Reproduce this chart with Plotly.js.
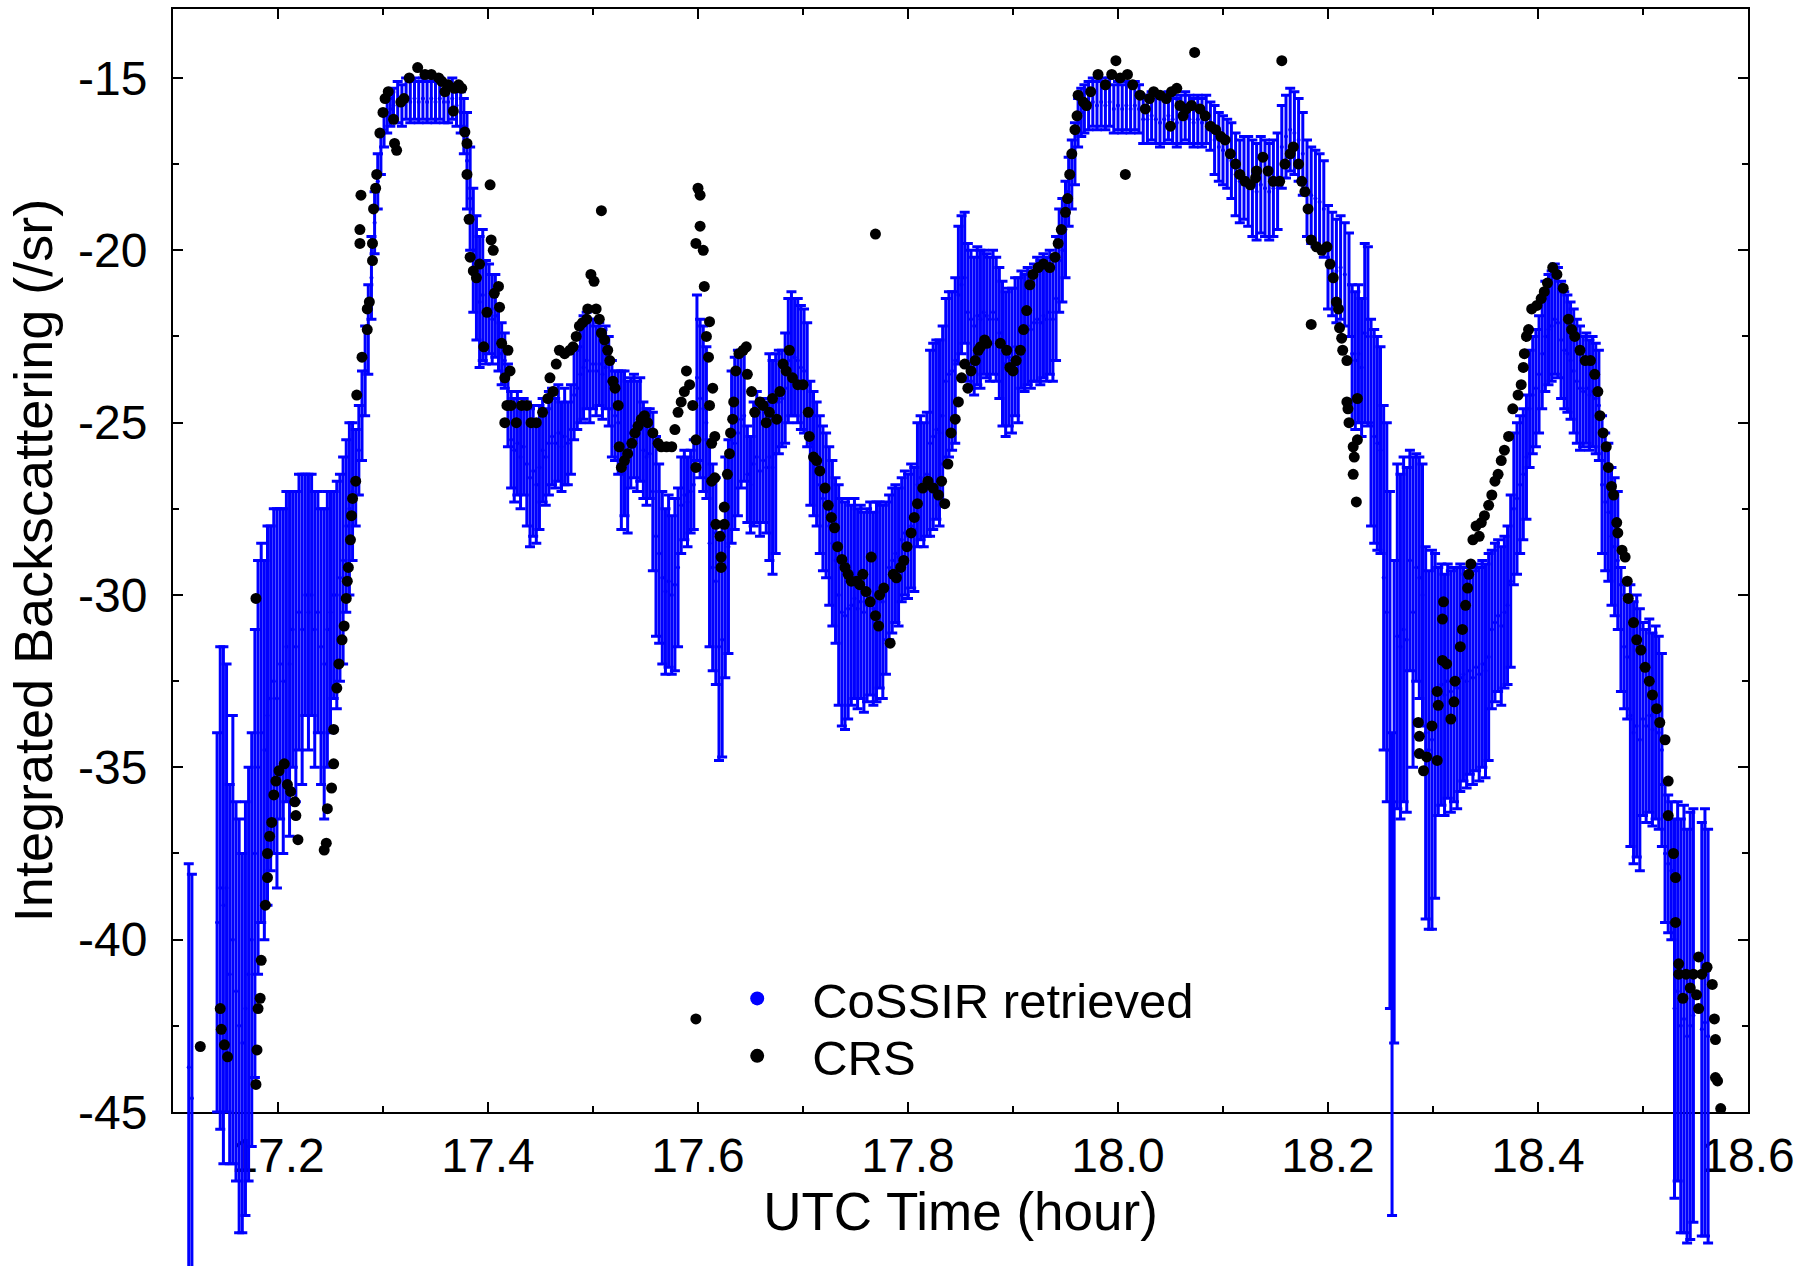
<!DOCTYPE html>
<html>
<head>
<meta charset="utf-8">
<script src="https://cdn.plot.ly/plotly-3.0.1.min.js"></script>
<style>html,body{margin:0;padding:0;background:#fff}#chart{width:1812px;height:1266px}</style>
</head>
<body>
<div id="chart"></div>
<script>
// CoSSIR retrieved: time (UTC hour), integrated backscattering (/sr), error
const cossirTime = [
17.115,17.118,17.142,17.145,17.148,17.151,17.154,17.157,17.160,17.163,
17.166,17.169,17.172,17.175,17.178,17.181,17.184,
17.187,17.190,17.193,17.196,17.199,17.202,17.205,17.208,17.211,17.214,
17.217,17.220,17.223,17.226,17.229,17.232,17.235,17.238,17.241,17.244,
17.247,17.250,17.253,17.256,17.259,17.262,17.265,17.268,17.271,
17.274,17.277,17.280,17.283,17.286,17.289,17.292,17.295,17.298,17.301,
17.304,17.307,17.310,
17.314,17.318,17.322,17.326,17.330,17.334,17.338,17.342,17.346,17.350,
17.354,17.358,17.362,17.366,17.370,17.374,
17.377,17.380,17.383,17.386,17.389,17.392,17.395,17.398,17.401,17.404,
17.407,17.410,17.413,17.416,17.419,17.422,17.425,17.428,17.431,17.434,
17.437,17.440,17.443,17.446,17.449,17.452,17.455,17.458,17.461,17.464,
17.467,17.470,17.473,17.476,17.479,17.482,17.485,17.488,17.491,17.494,
17.497,17.500,17.503,17.506,17.509,17.512,17.515,17.518,17.521,17.524,
17.527,17.530,17.533,17.536,17.539,17.542,17.545,17.548,17.551,17.554,
17.557,17.560,17.563,17.566,17.569,17.572,17.575,17.578,17.581,17.584,
17.587,17.590,17.593,17.596,17.599,17.602,17.605,17.608,
17.611,17.614,17.617,17.620,17.623,17.626,17.629,17.632,17.635,17.638,
17.641,17.644,17.647,17.650,17.653,17.656,17.659,17.662,17.665,17.668,
17.671,17.674,17.677,17.680,17.683,17.686,17.689,17.692,17.695,17.698,
17.701,17.704,17.707,17.710,17.713,17.716,17.719,17.722,17.725,17.728,
17.731,17.734,17.737,17.740,17.743,17.746,17.749,17.752,17.755,17.758,
17.761,17.764,17.767,17.770,17.773,17.776,17.779,17.782,17.785,17.788,
17.791,17.794,17.797,17.800,17.803,17.806,17.809,17.812,17.815,17.818,
17.821,17.824,17.827,17.830,17.833,17.836,17.839,17.842,17.845,17.848,
17.851,17.854,17.857,17.860,17.863,17.866,17.869,17.872,17.875,17.878,
17.881,17.884,17.887,17.890,17.893,17.896,17.899,17.902,17.905,17.908,
17.911,17.914,17.917,17.920,17.923,17.926,17.929,17.932,17.935,17.938,
17.941,17.944,17.947,17.950,17.953,17.956,17.959,17.962,17.965,
17.968,17.972,17.976,17.980,17.984,17.988,17.992,17.996,18.000,18.004,
18.008,18.012,18.016,18.020,18.024,18.028,18.032,18.036,18.040,18.044,
18.048,18.052,18.056,18.060,18.064,18.068,18.072,18.076,18.080,18.084,
18.088,
18.092,18.096,18.100,18.104,18.108,18.112,18.116,18.120,18.124,18.128,
18.132,18.136,18.140,18.144,18.148,18.152,18.156,18.160,18.164,18.168,
18.172,18.176,18.180,18.184,18.188,18.192,18.196,18.200,18.204,18.208,
18.212,18.216,18.220,
18.223,18.226,18.229,18.232,18.235,18.238,18.241,18.244,18.247,18.250,
18.253,18.256,18.259,18.261,18.263,18.266,18.269,18.272,18.275,18.278,
18.281,18.284,18.287,18.290,18.293,18.296,18.299,18.302,18.305,18.308,
18.311,18.314,18.317,18.320,18.323,18.326,18.329,18.332,18.335,18.338,
18.341,18.344,18.347,18.350,18.353,18.356,18.359,18.362,18.365,18.368,
18.371,18.374,18.377,18.380,18.383,18.386,18.389,18.392,18.395,18.398,
18.401,18.404,18.407,18.410,18.413,18.416,18.419,18.422,18.425,18.428,
18.431,18.434,18.437,18.440,18.443,18.446,18.449,18.452,18.455,18.458,
18.461,18.464,18.467,18.470,18.473,18.476,18.479,18.482,18.485,18.488,
18.491,18.494,18.497,18.500,18.503,18.506,18.509,18.512,18.515,18.518,
18.521,18.524,18.527,18.530,18.533,18.536,18.539,18.542,18.545,18.548,
18.556,18.559,18.562
];
const cossirValue = [
-43.7,-44.6,-39.5,-38.5,-39.0,-38.5,-41.0,-40.0,-41.5,-42.5,
-43.0,-42.0,-41.0,-40.0,-37.5,-35.0,-34.0,
-34.5,-33.5,-33.0,-32.5,-33.0,-32.0,-32.5,-31.5,-32.0,-31.0,
-31.5,-30.5,-31.0,-30.0,-30.5,-30.0,-31.0,-30.5,-31.5,-32.0,
-31.0,-30.5,-30.0,-30.0,-29.5,-29.0,-28.0,-27.5,-27.0,
-26.6,-25.8,-24.8,-23.5,-22.3,-20.8,-19.2,-18.0,-17.2,-16.5,
-16.1,-15.9,-15.8,
-15.7,-15.8,-15.6,-15.7,-15.6,-15.7,-15.6,-15.7,-15.6,-15.7,
-15.6,-15.7,-15.7,-15.6,-15.8,-16.0,
-16.4,-17.4,-18.5,-20.0,-20.8,-21.5,-21.3,-21.8,-21.7,-22.0,
-21.9,-22.6,-23.0,-23.2,-24.5,-25.5,-25.8,-25.6,-26.0,-25.7,
-26.2,-26.6,-26.4,-26.8,-26.3,-25.8,-26.0,-25.6,-25.4,-25.6,
-25.3,-25.7,-25.4,-25.6,-25.2,-24.2,-24.0,-23.6,-23.4,-23.2,
-23.5,-23.3,-23.5,-23.3,-23.6,-23.4,-23.8,-24.6,-24.8,-25.0,
-25.8,-25.6,-26.0,-25.3,-25.1,-25.4,-25.2,-25.8,-26.0,-25.9,
-27.0,-28.3,-28.8,-29.5,-29.9,-29.6,-30.0,-29.7,-29.2,-27.4,
-27.1,-27.3,-27.0,-26.8,-23.7,-24.3,-24.6,-25.0,
-28.5,-29.2,-29.6,-31.5,-31.3,-29.2,-28.6,-26.0,-25.6,-25.3,
-24.9,-24.8,-26.5,-26.8,-26.2,-26.0,-26.4,-26.1,-26.3,-26.0,
-26.3,-25.9,-24.4,-24.3,-24.0,-23.2,-23.0,-23.1,-23.2,-23.4,
-23.5,-23.9,-25.6,-25.9,-26.2,-26.8,-27.2,-27.4,-28.0,-28.5,
-29.0,-30.0,-30.5,-30.6,-30.4,-30.3,-30.1,-30.4,-30.2,-30.5,
-30.3,-30.1,-30.4,-30.2,-30.0,-30.2,-29.8,-29.2,-29.0,-28.8,
-28.9,-28.4,-28.2,-28.3,-28.0,-28.1,-26.8,-26.6,-26.8,-26.5,
-25.6,-25.4,-25.2,-25.3,-24.8,-23.8,-23.6,-23.5,-23.2,-21.3,
-21.0,-20.8,-21.8,-22.0,-22.2,-21.9,-22.0,-21.8,-21.9,-22.0,
-21.8,-22.0,-22.4,-23.0,-23.3,-23.1,-23.2,-22.8,-22.9,-22.3,
-22.4,-22.2,-22.3,-22.1,-22.0,-22.1,-21.9,-22.0,-21.8,-22.0,
-21.4,-20.3,-20.0,-19.4,-18.3,-17.8,-17.2,-16.3,-16.0,
-15.9,-15.8,-15.7,-15.8,-15.7,-15.8,-15.7,-15.9,-15.8,-15.9,
-15.8,-15.9,-15.8,-15.9,-16.2,-16.2,-16.1,-16.2,-16.3,-16.2,
-16.1,-16.2,-16.3,-16.2,-16.1,-16.2,-16.3,-16.2,-16.3,-16.2,
-16.4,
-16.8,-17.0,-17.1,-17.2,-17.4,-17.8,-18.0,-17.9,-18.0,-18.2,
-18.3,-18.1,-18.2,-18.3,-18.2,-18.0,-17.0,-16.7,-16.5,-16.6,
-16.8,-17.2,-18.2,-18.4,-18.5,-18.6,-18.8,-20.2,-20.4,-20.6,
-20.5,-20.7,-21.0,
-23.0,-23.2,-23.0,-23.4,-22.4,-22.5,-25.0,-25.4,-25.6,-25.8,
-29.5,-30.5,-34.5,-41.0,-36.0,-31.2,-31.5,-31.0,-31.3,-29.0,
-30.5,-29.2,-29.5,-30.0,-34.0,-34.5,-34.2,-33.8,-32.8,-32.6,
-32.9,-32.5,-32.8,-32.6,-32.7,-32.4,-32.3,-32.5,-32.2,-32.4,
-32.1,-32.3,-32.0,-32.2,-31.8,-31.0,-30.8,-30.6,-30.9,-30.5,
-30.3,-29.6,-27.5,-27.2,-26.8,-26.5,-26.0,-24.6,-24.2,-24.0,
-23.6,-23.0,-22.5,-22.3,-22.2,-22.0,-22.1,-22.6,-22.9,-23.0,
-23.2,-23.5,-23.8,-24.0,-24.1,-24.0,-24.2,-24.1,-24.3,-24.5,
-26.8,-27.3,-27.6,-28.3,-28.6,-29.0,-31.0,-31.5,-31.8,-33.5,
-34.0,-33.8,-34.2,-33.6,-33.8,-33.5,-33.9,-33.7,-34.0,-34.5,
-37.5,-37.8,-38.0,-42.0,-41.5,-42.5,-42.3,-42.8,-42.5,-42.2,
-42.6,-42.4,-42.8
];
const cossirError = [
5.9,6.5,5.5,7.0,7.5,6.5,5.5,6.5,5.5,6.0,
5.5,6.0,6.0,6.0,6.5,6.0,5.5,
5.5,5.5,5.0,5.0,5.5,4.5,5.0,4.5,5.0,4.0,
4.5,4.0,4.5,3.5,4.0,3.5,4.0,3.5,4.0,4.5,
4.0,3.5,3.0,3.3,3.0,3.0,2.5,2.5,2.0,
1.4,1.3,1.3,1.3,1.3,1.2,0.9,0.8,0.6,0.5,
0.5,0.5,0.5,
0.6,0.6,0.6,0.6,0.6,0.6,0.6,0.6,0.6,0.6,
0.6,0.6,0.6,0.6,0.6,0.6,
0.8,1.4,1.5,1.8,1.8,1.9,1.9,1.5,1.3,1.3,
1.2,0.9,0.9,0.8,1.2,1.4,1.5,1.5,1.5,1.4,
1.8,2.0,1.9,1.7,1.8,1.5,1.4,1.5,1.4,1.3,
1.4,1.3,1.4,1.2,1.3,1.3,1.2,1.4,1.5,1.4,
1.5,1.3,1.3,1.2,1.3,1.2,1.3,1.4,1.3,1.5,
2.3,2.1,2.2,1.6,1.5,1.6,1.5,1.4,1.4,1.3,
2.3,2.9,2.6,2.5,2.4,2.5,2.3,2.5,2.3,1.4,
1.3,1.3,1.2,1.3,2.4,2.3,2.4,2.2,
3.0,3.0,3.0,3.3,3.4,3.2,3.1,2.5,2.5,2.4,
2.0,1.9,1.4,1.4,1.8,1.9,1.9,1.8,1.9,3.0,
3.1,2.9,1.5,1.4,1.6,1.8,1.8,1.7,1.8,1.8,
1.8,1.8,1.8,1.8,1.8,2.0,2.1,2.1,2.3,2.4,
2.4,3.2,3.3,3.3,3.2,2.9,2.9,2.9,2.8,2.9,
2.8,2.8,2.8,2.9,2.7,2.8,2.5,2.1,2.1,2.0,
2.0,1.8,1.8,1.8,1.8,1.8,1.8,1.8,1.8,1.8,
2.7,2.7,2.6,2.7,2.6,2.4,2.4,2.3,2.4,2.0,
2.0,1.9,2.0,2.0,2.0,2.0,2.0,1.8,1.8,1.8,
1.8,1.8,1.9,2.1,2.1,2.0,2.1,2.0,2.1,1.7,
1.7,1.7,1.7,1.7,1.8,1.8,1.8,1.8,1.8,1.8,
1.8,1.5,1.5,1.4,1.0,1.0,0.9,0.7,0.7,
0.7,0.7,0.7,0.7,0.7,0.7,0.7,0.7,0.7,0.7,
0.7,0.7,0.7,0.7,0.7,0.7,0.7,0.7,0.7,0.7,
0.7,0.7,0.7,0.7,0.7,0.7,0.7,0.7,0.7,0.7,
0.7,
1.0,1.0,1.0,1.0,1.1,1.2,1.2,1.2,1.3,1.4,
1.4,1.4,1.4,1.4,1.4,1.4,1.2,1.2,1.2,1.2,
1.2,1.2,1.4,1.4,1.4,1.4,1.4,1.5,1.5,1.5,
1.5,1.5,1.5,
2.0,2.0,2.0,2.0,2.6,2.6,3.0,3.1,3.1,3.0,
5.0,5.5,7.5,7.0,7.0,5.0,5.0,5.0,5.0,3.2,
4.5,3.3,3.5,3.8,5.4,5.2,5.5,5.0,3.6,3.5,
3.5,3.4,3.5,3.4,3.5,3.3,3.1,3.1,3.0,3.1,
3.0,3.1,3.0,3.1,3.0,2.3,2.3,2.2,2.3,2.2,
2.3,2.5,2.2,2.2,2.0,1.9,1.8,1.7,1.7,1.7,
1.7,1.6,1.6,1.6,1.6,1.6,1.6,1.7,1.7,1.7,
1.7,1.8,1.8,1.8,1.6,1.6,1.6,1.6,1.6,1.6,
2.0,2.0,2.0,2.0,2.0,2.0,1.8,1.8,1.8,3.8,
3.8,3.8,3.8,2.8,2.8,2.8,2.8,2.8,2.8,2.8,
2.0,2.0,2.0,5.5,5.5,6.0,6.2,6.0,6.2,6.0,
6.0,6.2,6.0
];

// CRS: time (UTC hour), integrated backscattering (/sr)
const crsTime = [
17.126,17.145,17.146,17.149,17.152,17.179,17.179,17.180,17.181,17.183,
17.184,17.188,17.190,17.190,17.192,17.194,17.196,17.198,17.201,17.206,
17.209,17.212,17.216,17.217,17.219,17.244,17.246,17.247,17.251,17.253,
17.253,17.256,17.258,17.261,17.263,17.265,17.266,17.267,17.269,17.270,
17.271,17.274,17.275,17.278,17.278,17.279,17.280,17.285,17.285,17.287,
17.290,17.290,17.291,17.293,17.294,17.297,17.300,17.302,17.305,17.310,
17.311,17.313,17.317,17.320,17.325,17.333,17.340,17.346,17.353,17.356,
17.359,17.362,17.367,17.368,17.372,17.375,17.378,17.380,17.380,17.382,
17.383,17.386,17.389,17.392,17.396,17.399,17.402,17.403,17.405,17.406,
17.410,17.411,17.413,17.416,17.416,17.418,17.419,17.421,17.422,17.427,
17.432,17.437,17.441,17.446,17.452,17.457,17.459,17.462,17.465,17.468,
17.473,17.478,17.481,17.484,17.487,17.490,17.494,17.495,17.498,17.501,
17.503,17.506,17.508,17.508,17.511,17.514,17.516,17.519,17.521,17.524,
17.525,17.527,17.530,17.533,17.537,17.540,17.543,17.546,17.549,17.552,
17.557,17.562,17.565,17.570,17.575,17.578,17.581,17.584,17.587,17.589,
17.592,17.595,17.598,17.598,17.598,17.598,17.600,17.602,17.602,17.605,
17.606,17.608,17.610,17.611,17.611,17.613,17.613,17.614,17.616,17.616,
17.617,17.621,17.622,17.622,17.625,17.625,17.628,17.630,17.631,17.633,
17.634,17.636,17.639,17.643,17.646,17.647,17.651,17.654,17.659,17.662,
17.665,17.668,17.671,17.675,17.678,17.681,17.684,17.687,17.690,17.695,
17.700,17.705,17.706,17.710,17.713,17.716,17.721,17.724,17.727,17.730,
17.733,17.737,17.740,17.743,17.746,17.751,17.754,17.757,17.760,17.764,
17.765,17.769,17.769,17.772,17.773,17.777,17.783,17.786,17.789,17.793,
17.796,17.799,17.803,17.806,17.809,17.814,17.819,17.824,17.829,17.832,
17.835,17.838,17.841,17.845,17.848,17.851,17.854,17.857,17.860,17.864,
17.867,17.869,17.873,17.875,17.888,17.894,17.897,17.900,17.903,17.907,
17.910,17.913,17.916,17.919,17.924,17.929,17.935,17.940,17.943,17.946,
17.950,17.952,17.954,17.956,17.959,17.961,17.962,17.967,17.970,17.974,
17.981,17.988,17.994,17.998,18.002,18.007,18.009,18.014,18.021,18.026,
18.030,18.034,18.040,18.046,18.050,18.051,18.056,18.059,18.062,18.065,
18.070,18.073,18.078,18.083,18.088,18.093,18.098,18.102,18.107,18.112,
18.116,18.121,18.126,18.131,18.132,18.138,18.143,18.148,18.154,18.156,
18.159,18.164,18.167,18.172,18.175,18.178,18.181,18.184,18.184,18.189,
18.194,18.199,18.202,18.205,18.208,18.210,18.211,18.213,18.214,18.218,
18.218,18.219,18.220,18.224,18.224,18.225,18.227,18.228,18.228,18.286,
18.287,18.287,18.291,18.294,18.299,18.304,18.304,18.305,18.309,18.309,
18.310,18.313,18.317,18.320,18.321,18.326,18.328,18.331,18.333,18.334,
18.336,18.338,18.341,18.344,18.346,18.349,18.353,18.356,18.359,18.362,
18.365,18.368,18.372,18.376,18.381,18.384,18.386,18.387,18.389,18.391,
18.394,18.399,18.403,18.406,18.409,18.414,18.418,18.424,18.429,18.432,
18.435,18.440,18.445,18.450,18.454,18.457,18.459,18.462,18.465,18.467,
18.470,18.472,18.475,18.476,18.480,18.483,18.485,18.486,18.491,18.494,
18.498,18.502,18.506,18.509,18.513,18.516,18.521,18.524,18.524,18.529,
18.531,18.531,18.534,18.534,18.538,18.541,18.545,18.548,18.551,18.553,
18.553,18.556,18.561,18.566,18.568,18.569,18.569,18.571,18.574
];
const crsValue = [
-43.1,-42.0,-42.6,-43.05,-43.4,-30.1,-44.2,-43.2,-42.0,-41.7,
-40.6,-39.0,-38.2,-37.5,-37.0,-36.6,-35.8,-35.4,-35.1,-34.9,
-35.5,-35.7,-36.0,-36.4,-37.1,-37.4,-37.2,-36.2,-35.6,-34.9,
-33.9,-32.7,-32.0,-31.3,-30.9,-30.1,-29.6,-29.2,-28.4,-27.7,
-27.2,-26.7,-24.2,-19.8,-19.4,-18.4,-23.1,-22.3,-21.7,-21.5,
-20.3,-19.8,-18.8,-18.2,-17.8,-16.6,-16.0,-15.6,-15.4,-16.2,
-16.9,-17.1,-15.7,-15.6,-15.0,-14.7,-14.9,-14.9,-15.0,-15.1,
-15.4,-15.2,-15.96,-15.3,-15.2,-15.3,-16.57,-16.9,-17.8,-19.1,
-20.2,-20.6,-20.8,-20.4,-22.8,-21.8,-18.1,-19.7,-20.0,-21.25,
-21.05,-21.65,-22.7,-23.7,-25.0,-24.5,-22.9,-23.5,-24.5,-25.0,
-24.5,-24.5,-25.0,-25.0,-24.7,-24.3,-23.7,-24.1,-23.3,-22.9,
-23.0,-22.9,-22.8,-22.5,-22.2,-22.1,-22.0,-21.7,-20.7,-20.9,
-21.7,-22.0,-18.85,-22.4,-22.6,-22.9,-23.2,-23.8,-24.0,-24.5,
-25.7,-26.3,-26.1,-25.9,-25.6,-25.3,-25.1,-24.9,-24.8,-25.0,
-25.3,-25.6,-25.7,-25.7,-25.7,-25.2,-24.7,-24.4,-24.1,-23.5,
-23.9,-24.5,-19.8,-25.5,-26.3,-42.3,-18.2,-18.4,-19.3,-20.0,
-21.05,-22.5,-23.1,-22.07,-24.5,-25.6,-26.7,-24.0,-25.4,-26.6,
-27.95,-28.3,-28.9,-29.2,-27.95,-27.45,-26.5,-25.9,-25.3,-24.9,
-24.4,-23.5,-23.0,-22.9,-22.8,-23.6,-24.1,-24.7,-24.4,-24.5,
-25.0,-24.7,-24.3,-24.9,-24.1,-23.3,-23.5,-22.9,-23.7,-23.9,
-23.9,-24.7,-25.4,-26.0,-26.1,-26.4,-26.9,-27.4,-27.75,-28.05,
-28.6,-28.97,-29.2,-29.4,-29.6,-29.6,-29.7,-29.4,-29.9,-30.2,
-28.9,-30.6,-19.53,-30.9,-30.0,-29.8,-31.4,-29.4,-29.5,-29.2,
-29.0,-28.6,-28.2,-27.75,-27.35,-26.9,-26.7,-26.9,-27.1,-26.7,
-27.35,-26.2,-25.3,-24.9,-24.4,-23.7,-23.3,-24.0,-23.5,-23.2,
-22.9,-22.8,-22.6,-22.7,-22.7,-22.9,-23.4,-23.5,-23.2,-22.9,
-22.3,-21.75,-21.0,-20.7,-20.5,-20.4,-20.5,-20.2,-19.8,-19.4,
-18.9,-18.5,-17.8,-17.2,-16.5,-16.1,-15.5,-15.7,-15.8,-15.4,
-14.9,-15.2,-14.9,-14.5,-15.0,-17.8,-14.9,-15.2,-15.5,-15.9,
-15.6,-15.4,-15.5,-15.6,-16.4,-15.4,-15.3,-15.8,-16.1,-15.9,
-15.8,-14.26,-15.9,-16.1,-16.4,-16.5,-16.7,-16.8,-17.2,-17.5,
-17.8,-18.0,-18.1,-17.9,-17.7,-17.3,-17.7,-18.0,-18.0,-14.5,
-17.5,-17.2,-17.0,-17.5,-18.0,-18.3,-18.8,-19.7,-22.15,-19.9,
-20.0,-19.9,-20.4,-20.8,-21.5,-21.7,-22.25,-22.55,-22.9,-23.2,
-24.4,-24.6,-25.0,-25.7,-26.5,-26.0,-27.3,-24.3,-25.5,-33.7,
-34.1,-34.6,-35.1,-34.7,-33.8,-32.8,-34.8,-33.2,-31.9,-30.7,
-30.2,-32.0,-33.6,-33.1,-32.5,-31.5,-31.0,-30.3,-29.8,-29.4,
-29.1,-28.4,-28.0,-28.3,-27.9,-27.7,-27.4,-27.1,-26.7,-26.5,
-26.1,-25.8,-25.4,-24.6,-24.2,-23.9,-23.4,-23.0,-22.5,-22.3,
-21.7,-21.6,-21.4,-21.2,-20.95,-20.5,-20.7,-21.1,-22.0,-22.3,
-22.5,-22.9,-23.2,-23.2,-23.6,-24.1,-24.8,-25.3,-25.7,-26.3,
-26.85,-27.1,-27.9,-28.2,-28.7,-28.9,-29.6,-30.1,-30.8,-31.3,
-31.6,-32.1,-32.5,-32.9,-33.3,-33.7,-34.2,-35.4,-36.4,-37.5,
-38.2,-39.5,-40.7,-41.0,-41.7,-41.0,-41.4,-41.0,-41.6,-42.0,
-40.5,-41.0,-40.8,-41.3,-42.3,-42.9,-44.0,-44.1,-44.9
];

const seriesNames = ['CoSSIR retrieved', 'CRS'];
const seriesColors = ['#0000ff', '#000000'];
const xTickValues = [17.2, 17.4, 17.6, 17.8, 18.0, 18.2, 18.4, 18.6];
const xTickLabels = ['17.2', '17.4', '17.6', '17.8', '18.0', '18.2', '18.4', '18.6'];
const yTickValues = [-45, -40, -35, -30, -25, -20, -15];
const yTickLabels = ['-45', '-40', '-35', '-30', '-25', '-20', '-15'];
const xTitle = 'UTC Time (hour)';
const yTitle = 'Integrated Backscattering (/sr)';
const legendPlaceholder = [null];

const FONT = 'Liberation Sans, Arial, Helvetica, sans-serif';

// The visible frame (xaxis/yaxis) spans y = -45 .. -13. The data layer (xaxis2/yaxis2,
// hidden) has the same scale but reaches further down, so long error bars run past
// the frame as in the original figure.
const X_RANGE = [17.1, 18.6];
const Y_MIN = -45, Y_MAX = -13;
const FRAME_BOTTOM_DOMAIN = 0.12251;
const DATA_Y_MIN = Y_MAX - (Y_MAX - Y_MIN) / (1 - FRAME_BOTTOM_DOMAIN);

const traces = [
  {
    type: 'scatter', mode: 'markers', name: seriesNames[0], showlegend: false,
    x: cossirTime, y: cossirValue, xaxis: 'x2', yaxis: 'y2',
    error_y: { type: 'data', array: cossirError, visible: true, color: seriesColors[0], thickness: 3, width: 5 },
    marker: { color: seriesColors[0], size: 4 }
  },
  {
    type: 'scatter', mode: 'markers', name: seriesNames[1], showlegend: false,
    x: crsTime, y: crsValue, xaxis: 'x2', yaxis: 'y2',
    marker: { color: seriesColors[1], size: 11 }
  },
  {
    type: 'scatter', mode: 'markers', name: seriesNames[0], showlegend: true, legend: 'legend',
    x: legendPlaceholder, y: legendPlaceholder,
    marker: { color: seriesColors[0], size: 14 }
  },
  {
    type: 'scatter', mode: 'markers', name: seriesNames[1], showlegend: true, legend: 'legend2',
    x: legendPlaceholder, y: legendPlaceholder,
    marker: { color: seriesColors[1], size: 14 }
  }
];

const axisCommon = {
  showline: true, linecolor: '#000', linewidth: 2, mirror: 'allticks',
  ticks: 'inside', ticklen: 10, tickwidth: 2, tickcolor: '#000',
  showgrid: false, zeroline: false,
  tickfont: { family: FONT, size: 48, color: '#000' }
};

const legendCommon = {
  xanchor: 'left', yanchor: 'top',
  font: { family: FONT, size: 49, color: '#000' },
  itemwidth: 100, bgcolor: 'rgba(0,0,0,0)', borderwidth: 0
};

const layout = {
  width: 1812, height: 1266,
  margin: { l: 173, r: 64, t: 9, b: 0 },
  paper_bgcolor: '#fff', plot_bgcolor: 'rgba(0,0,0,0)',
  font: { family: FONT, color: '#000' },
  showlegend: true,
  legend: Object.assign({}, legendCommon, { x: 0.336, y: 0.2434 }),
  legend2: Object.assign({}, legendCommon, { x: 0.336, y: 0.1977 }),
  xaxis: Object.assign({}, axisCommon, {
    range: X_RANGE, anchor: 'y',
    tickmode: 'array', tickvals: xTickValues, ticktext: xTickLabels,
    ticklabelstandoff: 0,
    minor: { dtick: 0.1, tick0: 17.1, ticks: 'inside', ticklen: 6, tickwidth: 2, tickcolor: '#000', showgrid: false },
    title: { text: xTitle, font: { family: FONT, size: 53, color: '#000' }, standoff: 4 }
  }),
  yaxis: Object.assign({}, axisCommon, {
    range: [Y_MIN, Y_MAX], domain: [FRAME_BOTTOM_DOMAIN, 1], anchor: 'x',
    tickmode: 'array', tickvals: yTickValues, ticktext: yTickLabels,
    ticklabelstandoff: 14,
    minor: { dtick: 2.5, tick0: -45, ticks: 'inside', ticklen: 6, tickwidth: 2, tickcolor: '#000', showgrid: false },
    title: { text: yTitle, font: { family: FONT, size: 54, color: '#000' }, standoff: 8 }
  }),
  xaxis2: {
    range: X_RANGE, overlaying: 'x', anchor: 'y2',
    visible: false, showgrid: false, zeroline: false
  },
  yaxis2: {
    range: [DATA_Y_MIN, Y_MAX], domain: [0, 1], anchor: 'x2',
    visible: false, showgrid: false, zeroline: false
  }
};

Plotly.newPlot('chart', traces, layout, { staticPlot: true, displayModeBar: false });
</script>
</body>
</html>
